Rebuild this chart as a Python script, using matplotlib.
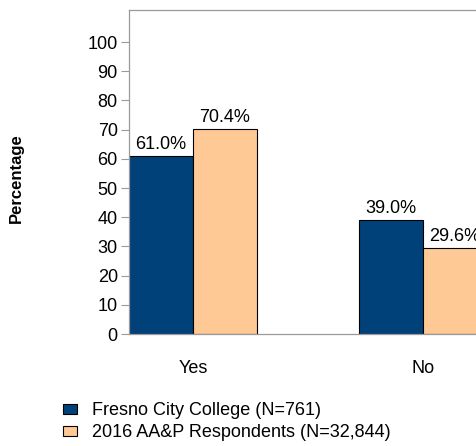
import numpy as np
import matplotlib.pyplot as plt

plt.rcParams['font.family'] = ['Liberation Sans', 'DejaVu Sans']

categories = ['Yes', 'No']
college = [61.0, 39.0]
statewide = [70.4, 29.6]
series_names = ['Fresno City College (N=761)', '2016 AA&P Respondents (N=32,844)']
yticks = list(range(0, 101, 10))

blue = '#00417a'
orange = '#fec994'
gray = '#9a9a9a'
fs = 13

fig = plt.figure(figsize=(4.77, 4.46), dpi=100)
# the plot area runs past the right edge of the picture, as in the original
ax = fig.add_axes([0.2704, 0.2511, 0.7505, 0.7265])

w = 0.278
x = np.arange(len(categories))
b1 = ax.bar(x - w / 2, college, w, color=blue, edgecolor='black', linewidth=0.8,
            label=series_names[0])
b2 = ax.bar(x + w / 2, statewide, w, color=orange, edgecolor='black', linewidth=0.8,
            label=series_names[1])

for bars, vals in [(b1, college), (b2, statewide)]:
    for rect, v in zip(bars, vals):
        ax.text(rect.get_x() + rect.get_width() / 2, v + 1.0, '%.1f%%' % v,
                ha='center', va='bottom', fontsize=fs, clip_on=False)

ax.set_xlim(-w, 1 + w)
ax.set_ylim(0, 111)
ax.set_yticks(yticks)
ax.set_yticklabels([str(t) for t in yticks], fontsize=fs)
ax.set_xticks(x)
ax.set_xticklabels(categories, fontsize=fs)
ax.tick_params(axis='x', length=0, pad=19)
ax.tick_params(axis='y', length=6, width=0.8, color=gray, pad=2)
for s in ax.spines.values():
    s.set_color(gray)
    s.set_linewidth(0.9)

fig.text(0.035, 0.6, 'Percentage', rotation=90, fontsize=12, fontweight='bold',
         ha='center', va='center')

fig.legend(handles=[b1, b2], labels=series_names, loc='upper left',
           bbox_to_anchor=(0.132, 0.098), frameon=False, fontsize=fs,
           handlelength=0.78, handleheight=0.45, handletextpad=0.85,
           labelspacing=0.28, borderpad=0, borderaxespad=0)

fig.savefig('out.png', dpi=100)
